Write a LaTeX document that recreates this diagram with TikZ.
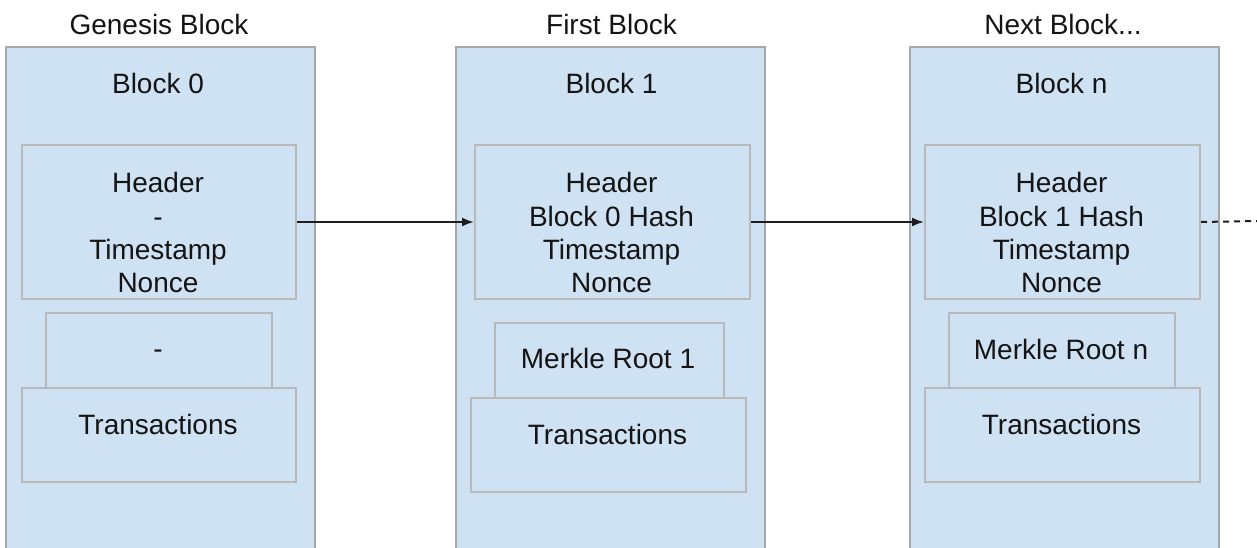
\documentclass[tikz,border=0pt]{standalone}
\usepackage{fontspec}
\setmainfont{Liberation Sans}
\usetikzlibrary{arrows.meta}
\definecolor{blockfill}{HTML}{CFE2F3}
\definecolor{outerline}{HTML}{A8A8A8}
\definecolor{innerline}{HTML}{B9B9B9}
\definecolor{linkline}{HTML}{1E1E1E}
\definecolor{txt}{HTML}{141414}
\begin{document}
\begin{tikzpicture}[x=1pt,y=-1pt,
  outerbox/.style={draw=outerline,line width=2pt,fill=blockfill,anchor=north west,inner sep=0pt},
  innerbox/.style={draw=innerline,line width=2pt,fill=blockfill,anchor=north west,inner sep=0pt},
  lbl/.style={font=\fontsize{28}{33.3}\selectfont,text=txt,inner sep=0pt,anchor=base},
  multi/.style={font=\fontsize{28}{33.3}\selectfont,text=txt,inner sep=0pt,align=center,anchor=north},
  link/.style={draw=linkline,line width=2pt,-{Latex[length=12pt,width=9pt]}},
  more/.style={draw=linkline,line width=2pt,dash pattern=on 6pt off 5pt}]
\useasboundingbox (0,0) rectangle (1257,548);
\clip (0,0) rectangle (1257,548);

% ---- Genesis block ----
\node[outerbox,minimum width=309pt,minimum height=520pt] (b0) at (5,46) {};
\node[innerbox,minimum width=274pt,minimum height=154pt] (h0) at (21,144) {};
\node[innerbox,minimum width=226pt,minimum height=76pt] (m0) at (45,312) {};
\node[innerbox,minimum width=274pt,minimum height=94pt] (t0) at (21,387) {};
\node[lbl] (g0) at (159,35) {Genesis Block};
\node[lbl] (n0) at (158,94) {Block 0};
\node[multi] (ht0) at (158,172.3) {Header\\-\\Timestamp\\Nonce};
\node[lbl] (mt0) at (158,358) {-};
\node[lbl] (tt0) at (158,434) {Transactions};

% ---- First block ----
\node[outerbox,minimum width=309pt,minimum height=520pt] (b1) at (455,46) {};
\node[innerbox,minimum width=275pt,minimum height=154pt] (h1) at (474,144) {};
\node[innerbox,minimum width=229pt,minimum height=76pt] (m1) at (494,322) {};
\node[innerbox,minimum width=275pt,minimum height=94pt] (t1) at (470,397) {};
\node[lbl] (g1) at (611.5,35) {First Block};
\node[lbl] (n1) at (611.5,94) {Block 1};
\node[multi] (ht1) at (611.5,172.3) {Header\\Block 0 Hash\\Timestamp\\Nonce};
\node[lbl] (mt1) at (608,368) {Merkle Root 1};
\node[lbl] (tt1) at (607.5,444) {Transactions};

% ---- Next block ----
\node[outerbox,minimum width=309pt,minimum height=520pt] (bn) at (909,46) {};
\node[innerbox,minimum width=275pt,minimum height=154pt] (hn) at (924,144) {};
\node[innerbox,minimum width=226pt,minimum height=76pt] (mn) at (948,312) {};
\node[innerbox,minimum width=275pt,minimum height=94pt] (tn) at (924,387) {};
\node[lbl] (gn) at (1063,35) {Next Block...};
\node[lbl] (nn) at (1061.5,94) {Block n};
\node[multi] (htn) at (1061.5,172.3) {Header\\Block 1 Hash\\Timestamp\\Nonce};
\node[lbl] (mtn) at (1061,359) {Merkle Root n};
\node[lbl] (ttn) at (1061.5,434) {Transactions};

% ---- hash links ----
\coordinate (cont) at (1257,221);
\draw[link] (h0.east) -- (h1.west);
\draw[link] (h1.east) -- (hn.west);
\draw[more] (hn.east) -- (cont);
\end{tikzpicture}
\end{document}
